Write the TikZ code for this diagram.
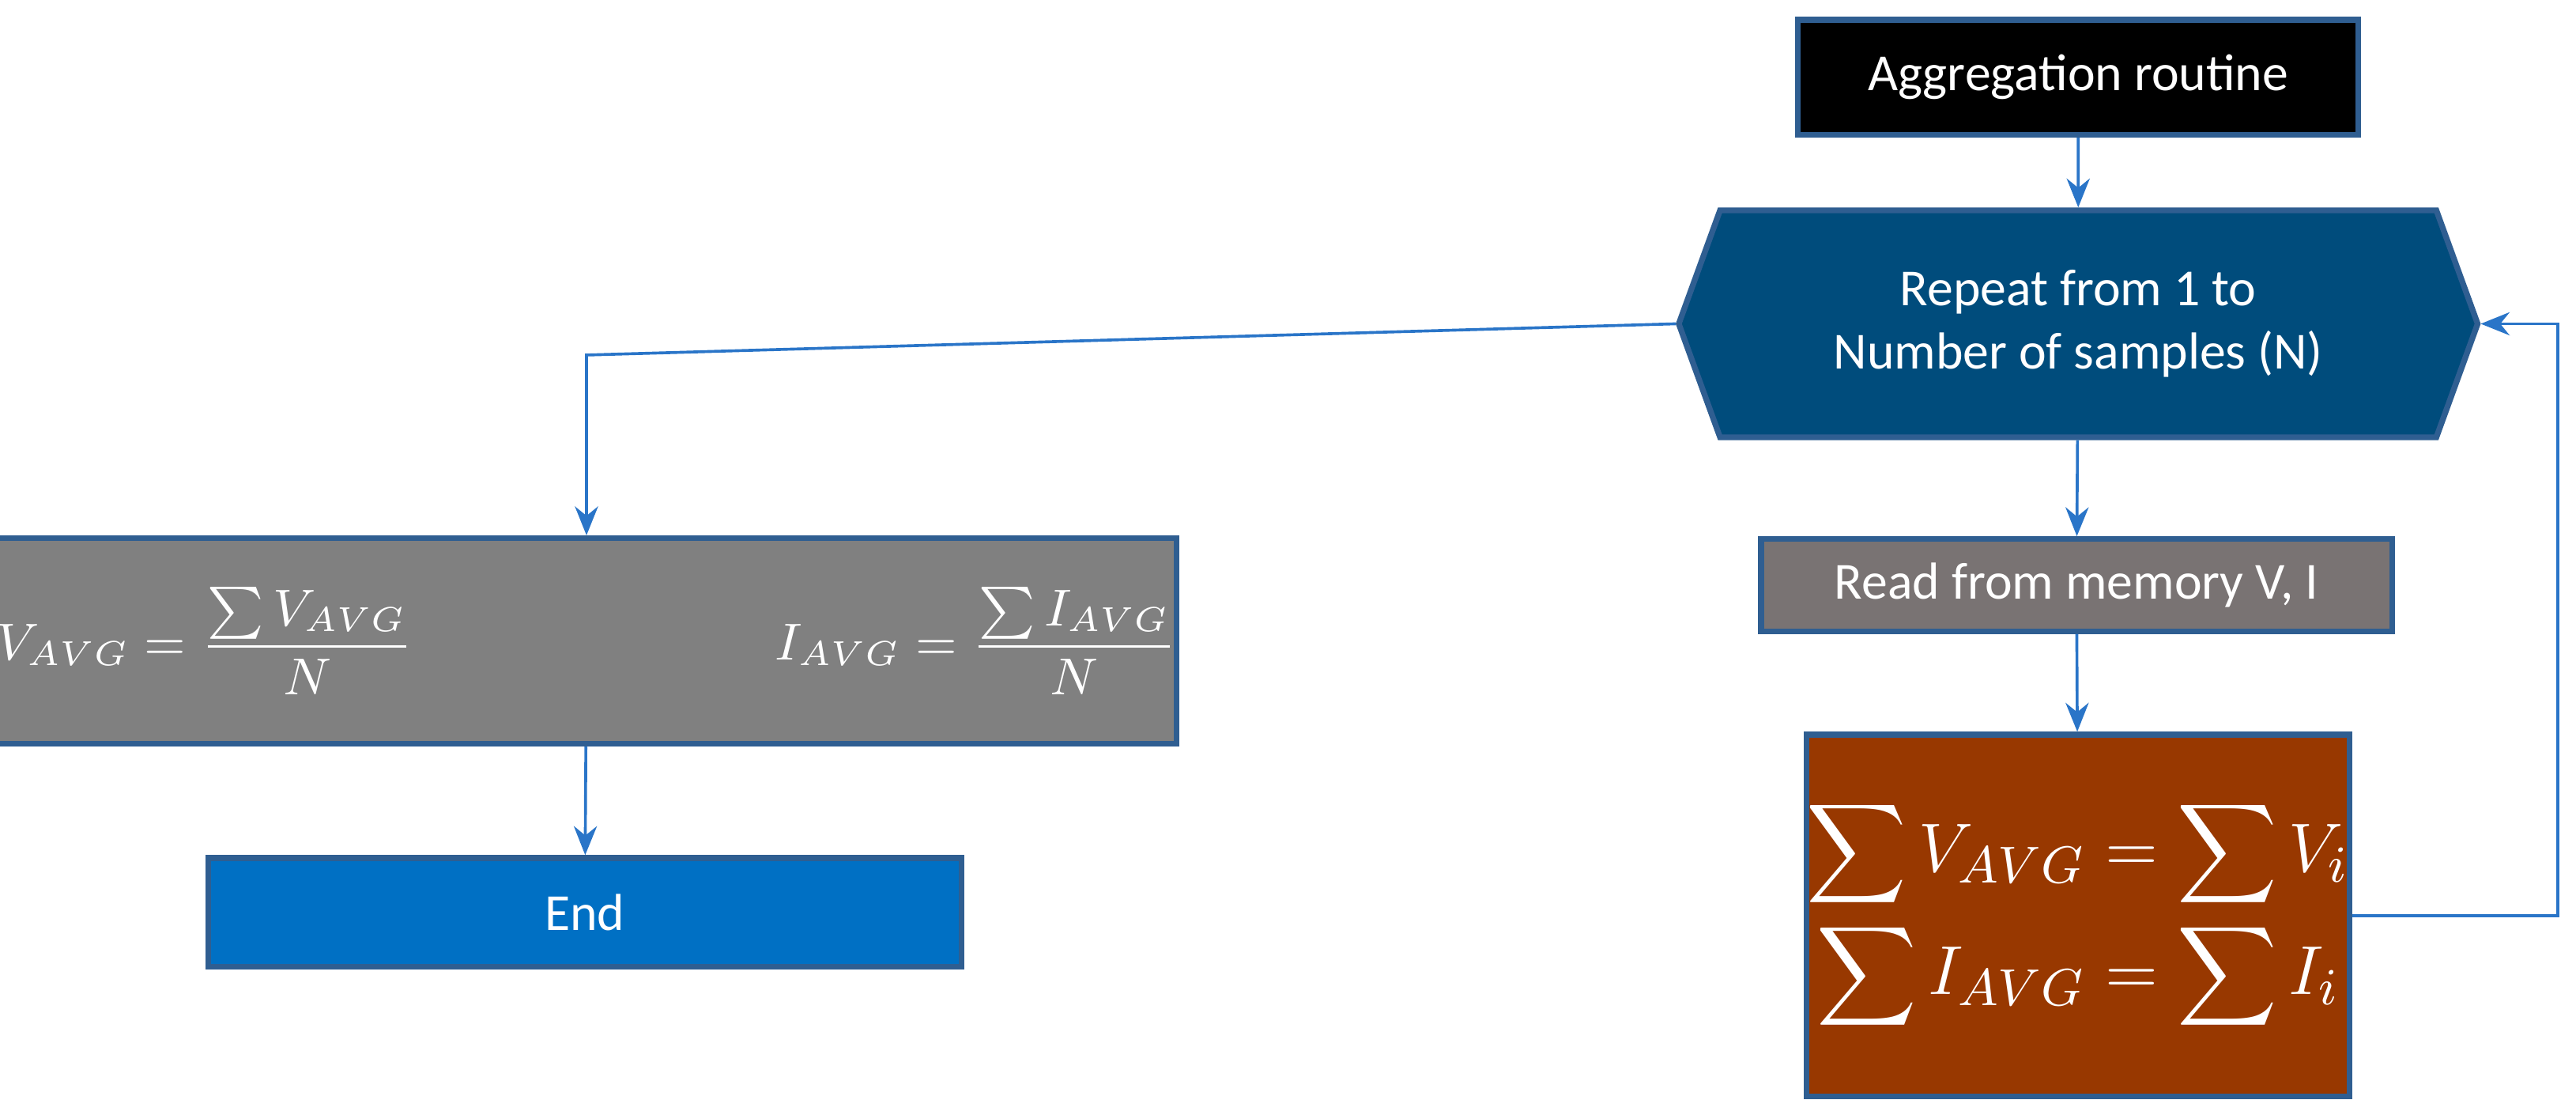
\documentclass[tikz,border=0pt]{standalone}
\usepackage{amsmath}
\usepackage{fontspec}
\setmainfont{Carlito}
\usepackage{tikz}
\usetikzlibrary{shapes.symbols,arrows.meta}
\definecolor{edgeblue}{HTML}{2F5E91}
\definecolor{lineblue}{HTML}{2A75C8}
\definecolor{hexblue}{HTML}{004C7C}
\definecolor{readgray}{HTML}{797373}
\definecolor{avggray}{HTML}{808080}
\definecolor{sumbrown}{HTML}{983800}
\definecolor{endblue}{HTML}{0070C4}

\begin{document}
\begin{tikzpicture}[x=0.01cm,y=-0.01cm,
box/.style={draw=edgeblue,line width=1pt,text=white,inner sep=0pt,font=\fontsize{9}{11}\selectfont},
flow/.style={draw=lineblue,line width=0.5pt,-{Stealth[length=5pt,width=4pt]}}
]
\useasboundingbox (0,0) rectangle (1568,678);

% The boxes
\node[box,fill=black,minimum width=3.41cm,minimum height=0.7cm] (start) at (1265,47) {Aggregation routine};
\node[box,fill=hexblue,shape=signal,signal to=west and east,signal pointer angle=140,
  minimum width=4.86cm,minimum height=1.38cm,align=center] (loop) at (1265,197) {Repeat from 1 to\\Number of samples (N)};
\node[box,fill=readgray,minimum width=3.84cm,minimum height=0.56cm] (read) at (1264,356) {Read from memory V, I};
\node[box,fill=sumbrown,minimum width=3.2cm,minimum height=2.2cm,font=\fontsize{13}{16}\selectfont] (sum) at (1265,557)
  {$\begin{aligned}\sum V_{AVG}&=\sum V_i\\[-2pt]\sum I_{AVG}&=\sum I_i\end{aligned}$};
\node[box,fill=avggray,minimum width=6.94cm,minimum height=1.25cm] (avg) at (357,390)
  {$V_{AVG}=\dfrac{\sum V_{AVG}}{N}$\hspace{2.2cm}$I_{AVG}=\dfrac{\sum I_{AVG}}{N}$};
\node[box,fill=endblue,minimum width=4.58cm,minimum height=0.66cm] (end) at (356,555) {End};

% The connectors
\coordinate (back) at (1557,557);
\coordinate (turn) at (357,216);
\draw[flow] (start) -- (loop);
\draw[flow] (loop) -- (read);
\draw[flow] (read) -- (sum);
\draw[flow] (sum.east) -- (back) |- (loop.east);
\draw[flow] (loop.west) -- (turn) -- (avg.north);
\draw[flow] (avg) -- (end);
\end{tikzpicture}
\end{document}
